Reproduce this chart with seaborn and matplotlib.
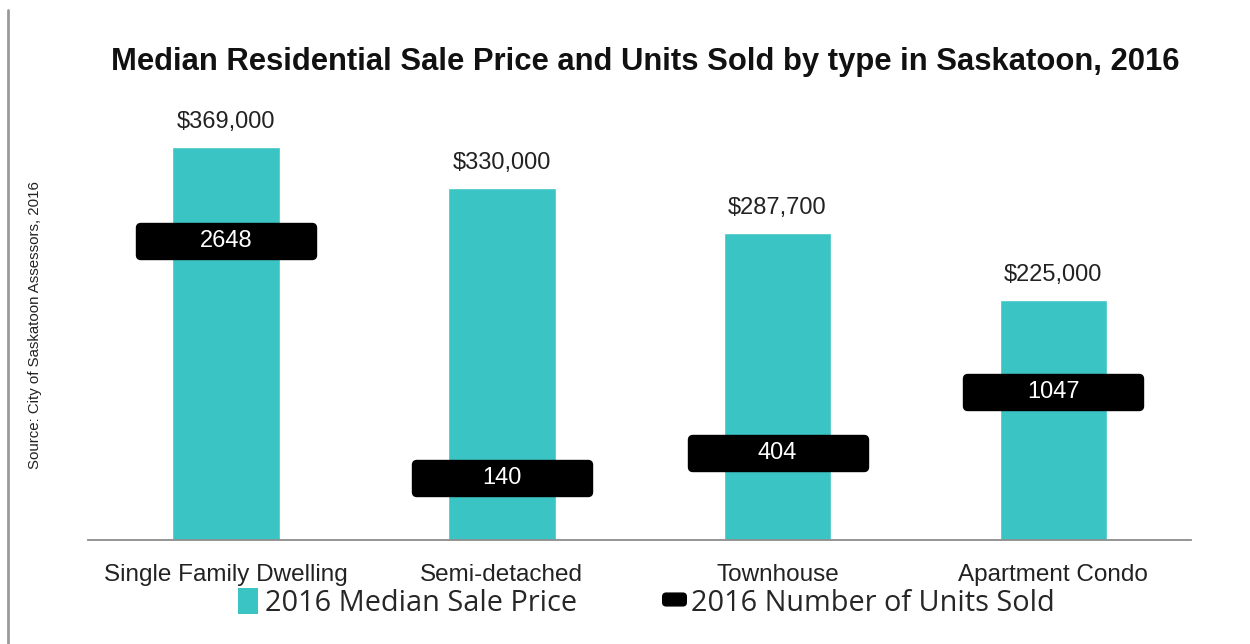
import numpy as np
import pandas as pd
import matplotlib
matplotlib.use("Agg")
import matplotlib.pyplot as plt
from matplotlib.patches import BoxStyle, Patch
from matplotlib.lines import Line2D
import seaborn as sns

categories = ["Single Family Dwelling", "Semi-detached", "Townhouse", "Apartment Condo"]
median_price = [369000, 330000, 287700, 225000]
units_sold = [2648, 140, 404, 1047]
price_labels = ["$369,000", "$330,000", "$287,700", "$225,000"]

teal = "#3BC4C4"
narrow = ["Liberation Sans Narrow", "Liberation Sans", "DejaVu Sans"]

sns.set_theme(style="white")
plt.rcParams["font.family"] = narrow

df = pd.DataFrame({"type": categories, "price": median_price, "units": units_sold})

fig = plt.figure(figsize=(12.5, 6.44), dpi=100)
ax = fig.add_axes([0.0704, 0.1615, 0.8826, 0.6835])

sns.barplot(data=df, x="type", y="price", color=teal, width=0.39, saturation=1, ax=ax)
ax.set_xlim(-0.5, len(categories) - 0.5)
ax.set_ylim(0, 413000)
ax.set_xlabel("")
ax.set_ylabel("")
ax.set_yticks([])
for s in ["top", "left", "right"]:
    ax.spines[s].set_visible(False)
ax.spines["bottom"].set_color("#8c8c8c")
ax.spines["bottom"].set_linewidth(1.3)
ax.set_xticks(np.arange(-0.5, len(categories)), minor=True)
ax.tick_params(axis="x", which="minor", length=8, color="#8c8c8c", width=1.3, direction="out")
ax.tick_params(axis="x", which="major", length=0, pad=17, labelsize=17.5, labelcolor="#222222")

for i, (v, lab) in enumerate(zip(median_price, price_labels)):
    ax.annotate(lab, (i, v), xytext=(0, 10), textcoords="offset points",
                ha="center", va="bottom", fontsize=17, color="#222222")

# secondary axis for units sold, drawn as rounded black boxes
ax2 = ax.twinx()
ax2.set_ylim(-516, 4140)
ax2.set_yticks([])
for s in ax2.spines.values():
    s.set_visible(False)

box = BoxStyle("Round", pad=0, rounding_size=0.025)(-0.5, -0.1, 1.0, 0.2, 1.0)
ax2.plot(range(len(categories)), units_sold, ls="none", marker=box,
         markersize=129.6, color="black")
for i, u in enumerate(units_sold):
    ax2.text(i, u, str(u), ha="center", va="center", color="white", fontsize=17)

fig.text(0.516, 0.903, "Median Residential Sale Price and Units Sold by type in Saskatoon, 2016",
         ha="center", va="center", fontsize=22.3, fontweight="bold",
         family=["Liberation Sans", "DejaVu Sans"], color="#111111")
fig.text(0.028, 0.495, "Source: City of Saskatoon Assessors, 2016", rotation=90,
         ha="center", va="center", fontsize=10.8, color="#222222")
fig.add_artist(Line2D([0.0064, 0.0064], [0.985, 0.0], color="#9a9a9a", lw=2,
                      transform=fig.transFigure))

legbox = BoxStyle("Round", pad=0, rounding_size=0.15)(-0.5, -0.27, 1.0, 0.54, 1.0)
handles = [Patch(facecolor=teal, edgecolor="none"),
           Line2D([], [], ls="none", marker=legbox, markersize=17, color="black")]
fig.legend(handles, ["2016 Median Sale Price", "2016 Number of Units Sold"],
           loc="center", bbox_to_anchor=(0.517, 0.064), ncol=2, frameon=False,
           prop={"family": ["Open Sans", "DejaVu Sans"], "size": 20.8},
           handlelength=0.7, handleheight=1.0, handletextpad=0.25, columnspacing=3.0)

fig.savefig("out.png", dpi=100)
